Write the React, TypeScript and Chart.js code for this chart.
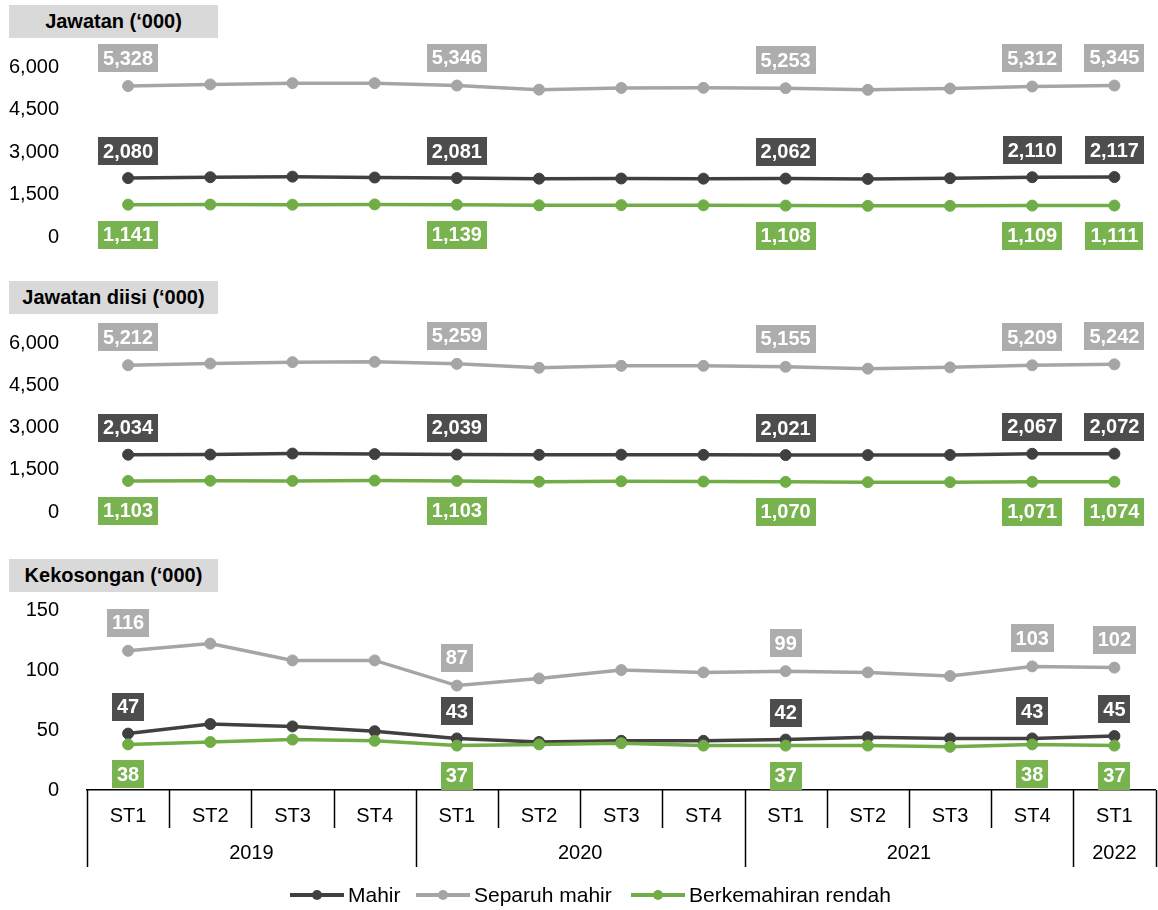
import React, { useEffect, useRef } from 'react';
import { Chart, registerables } from 'chart.js';

Chart.register(...registerables);

// ---------- data ----------
const QUARTERS = ['ST1', 'ST2', 'ST3', 'ST4', 'ST1', 'ST2', 'ST3', 'ST4', 'ST1', 'ST2', 'ST3', 'ST4', 'ST1'];
const YEAR_LABELS = ['2019', '2020', '2021', '2022'];
const YEAR_SPANS = [4, 4, 4, 1];
const LABEL_INDICES = [0, 4, 8, 11, 12];
const SERIES_NAMES = ['Mahir', 'Separuh mahir', 'Berkemahiran rendah'];
const PANEL_TITLES = ['Jawatan (‘000)', 'Jawatan diisi (‘000)', 'Kekosongan (‘000)'];

const JAWATAN_MAHIR = [2080, 2110, 2130, 2100, 2081, 2060, 2065, 2060, 2062, 2050, 2075, 2110, 2117];
const JAWATAN_SEPARUH = [5328, 5385, 5430, 5430, 5346, 5200, 5260, 5265, 5253, 5195, 5240, 5312, 5345];
const JAWATAN_RENDAH = [1141, 1145, 1140, 1150, 1139, 1120, 1125, 1118, 1108, 1100, 1100, 1109, 1111];

const DIISI_MAHIR = [2034, 2040, 2075, 2055, 2039, 2030, 2035, 2030, 2021, 2020, 2025, 2067, 2072];
const DIISI_SEPARUH = [5212, 5270, 5320, 5330, 5259, 5120, 5190, 5190, 5155, 5090, 5135, 5209, 5242];
const DIISI_RENDAH = [1103, 1110, 1105, 1115, 1103, 1075, 1090, 1080, 1070, 1060, 1060, 1071, 1074];

const KOSONG_MAHIR = [47, 55, 53, 49, 43, 40, 41, 41, 42, 44, 43, 43, 45];
const KOSONG_SEPARUH = [116, 122, 108, 108, 87, 93, 100, 98, 99, 98, 95, 103, 102];
const KOSONG_RENDAH = [38, 40, 42, 41, 37, 38, 39, 37, 37, 37, 36, 38, 37];

const Y_MAX = [6000, 6000, 150];
const Y_STEP = [1500, 1500, 50];

// ---------- styles ----------
const FONT = '"Liberation Sans", Arial, Helvetica, sans-serif';
const LINE_COLORS = ['#404040', '#A5A5A5', '#70AD47'];
const LABEL_BG = ['#4D4D4D', '#ADADAD', '#78B350'];
const LABEL_OFFSET = [-27, -28, 30];
const DRAW_ORDER = [1, 2, 0];

const PANELS = [
  { top: 0, height: 270, padTop: 67, padBottom: 33, titleTop: 5, series: [JAWATAN_MAHIR, JAWATAN_SEPARUH, JAWATAN_RENDAH], showX: false },
  { top: 250, height: 295, padTop: 93, padBottom: 33, titleTop: 281, series: [DIISI_MAHIR, DIISI_SEPARUH, DIISI_RENDAH], showX: false },
  { top: 530, height: 380, padTop: 80, padBottom: 40, titleTop: 559, series: [KOSONG_MAHIR, KOSONG_SEPARUH, KOSONG_RENDAH], showX: true },
];

const CANVAS_WIDTH = 1162;

const fmt = (v: number) => v.toLocaleString('en-US');

const dataLabelPlugin = {
  id: 'boxLabels',
  afterDatasetsDraw(chart: any) {
    const ctx = chart.ctx;
    ctx.save();
    ctx.font = `bold 20px ${FONT}`;
    ctx.textAlign = 'center';
    ctx.textBaseline = 'middle';
    chart.data.datasets.forEach((ds: any, di: number) => {
      const meta = chart.getDatasetMeta(di);
      LABEL_INDICES.forEach((i) => {
        const pt = meta.data[i];
        if (!pt) return;
        const text = fmt(ds.data[i]);
        const w = ctx.measureText(text).width + 10;
        const h = 28;
        const cx = pt.x;
        const cy = pt.y + ds.labelOffset;
        ctx.fillStyle = ds.labelBg;
        ctx.fillRect(Math.round(cx - w / 2), Math.round(cy - h / 2), Math.round(w), h);
        ctx.fillStyle = '#FFFFFF';
        ctx.fillText(text, cx, cy + 1);
      });
    });
    ctx.restore();
  },
};

const xAxisPlugin = {
  id: 'groupAxis',
  afterDraw(chart: any) {
    const x = chart.scales.x;
    if (!x || !x.options.display) return;
    const ctx = chart.ctx;
    const base = chart.chartArea.bottom;
    const half = (x.getPixelForValue(1) - x.getPixelForValue(0)) / 2;
    const yearStarts: number[] = [];
    let acc = 0;
    YEAR_SPANS.forEach((s) => { yearStarts.push(acc); acc += s; });
    yearStarts.push(acc);
    ctx.save();
    ctx.strokeStyle = '#000000';
    ctx.lineWidth = 1.5;
    for (let i = 0; i <= QUARTERS.length; i++) {
      const px = i < QUARTERS.length ? x.getPixelForValue(i) - half : x.getPixelForValue(i - 1) + half;
      const long = yearStarts.includes(i);
      ctx.beginPath();
      ctx.moveTo(Math.round(px) + 0.5, base);
      ctx.lineTo(Math.round(px) + 0.5, base + (long ? 77 : 38));
      ctx.stroke();
    }
    ctx.fillStyle = '#000000';
    ctx.font = `20px ${FONT}`;
    ctx.textAlign = 'center';
    ctx.textBaseline = 'middle';
    YEAR_LABELS.forEach((label, yi) => {
      const s = yearStarts[yi];
      const e = yearStarts[yi + 1] - 1;
      const cx = (x.getPixelForValue(s) - half + x.getPixelForValue(e) + half) / 2;
      ctx.fillText(label, cx, base + 63);
    });
    ctx.restore();
  },
};

function Panel({ index }: { index: number }) {
  const ref = useRef<HTMLCanvasElement | null>(null);
  const p = PANELS[index];
  useEffect(() => {
    if (!ref.current) return;
    const chart = new Chart(ref.current, {
      type: 'line',
      data: {
        labels: QUARTERS,
        datasets: SERIES_NAMES.map((name, si) => ({
          label: name,
          data: p.series[si],
          borderColor: LINE_COLORS[si],
          backgroundColor: LINE_COLORS[si],
          pointBackgroundColor: LINE_COLORS[si],
          pointBorderColor: LINE_COLORS[si],
          pointRadius: 5.5,
          pointBorderWidth: 1,
          borderWidth: 3.5,
          tension: 0,
          clip: false,
          order: DRAW_ORDER[si],
          labelOffset: LABEL_OFFSET[si],
          labelBg: LABEL_BG[si],
        })) as any,
      },
      options: {
        responsive: false,
        animation: false,
        events: [],
        layout: { padding: { top: p.padTop, bottom: p.padBottom, left: 0, right: 0 } },
        plugins: { legend: { display: false }, tooltip: { enabled: false } },
        scales: {
          x: {
            display: p.showX,
            offset: true,
            grid: { display: false },
            border: { display: true, color: '#000000', width: 1.5 },
            ticks: { color: '#000000', font: { family: FONT, size: 20 }, padding: 6, maxRotation: 0, autoSkip: false },
            afterFit: (scale: any) => { if (p.showX) scale.height = 80; },
          },
          y: {
            min: 0,
            max: Y_MAX[index],
            grid: { display: false },
            border: { display: false },
            ticks: {
              stepSize: Y_STEP[index],
              autoSkip: false,
              color: '#000000',
              font: { family: FONT, size: 20 },
              padding: 20,
              callback: (v: any) => fmt(Number(v)),
            },
            afterFit: (scale: any) => { scale.width = 87; },
          },
        },
      } as any,
      plugins: [dataLabelPlugin, xAxisPlugin],
    });
    return () => chart.destroy();
  }, []);
  return (
    <>
      <canvas
        ref={ref}
        width={CANVAS_WIDTH}
        height={p.height}
        style={{ position: 'absolute', left: 0, top: p.top, width: CANVAS_WIDTH, height: p.height }}
      />
      <div
        style={{
          position: 'absolute',
          left: 9,
          top: p.titleTop,
          width: 209,
          height: 33,
          background: '#D9D9D9',
          fontFamily: FONT,
          fontWeight: 'bold',
          fontSize: 20,
          lineHeight: '33px',
          textAlign: 'center',
          color: '#000',
        }}
      >
        {PANEL_TITLES[index]}
      </div>
    </>
  );
}

const LEGEND_LEFT = [290, 416, 631];

export default function App() {
  return (
    <div style={{ position: 'absolute', left: 0, top: 0, width: 1158, height: 910, overflow: 'hidden', background: '#fff' }}>
      <Panel index={0} />
      <Panel index={1} />
      <Panel index={2} />
      {SERIES_NAMES.map((name, si) => (
        <div
          key={name}
          style={{
            position: 'absolute',
            left: LEGEND_LEFT[si],
            top: 884,
            height: 22,
            display: 'flex',
            alignItems: 'center',
            fontFamily: FONT,
            fontSize: 21,
            color: '#000',
            whiteSpace: 'nowrap',
          }}
        >
          <span style={{ position: 'relative', display: 'inline-block', width: 54, height: 4, background: LINE_COLORS[si] }}>
            <span
              style={{
                position: 'absolute',
                left: 22,
                top: -3,
                width: 10,
                height: 10,
                borderRadius: '50%',
                background: LINE_COLORS[si],
              }}
            />
          </span>
          <span style={{ marginLeft: 4, lineHeight: '22px' }}>{name}</span>
        </div>
      ))}
    </div>
  );
}
